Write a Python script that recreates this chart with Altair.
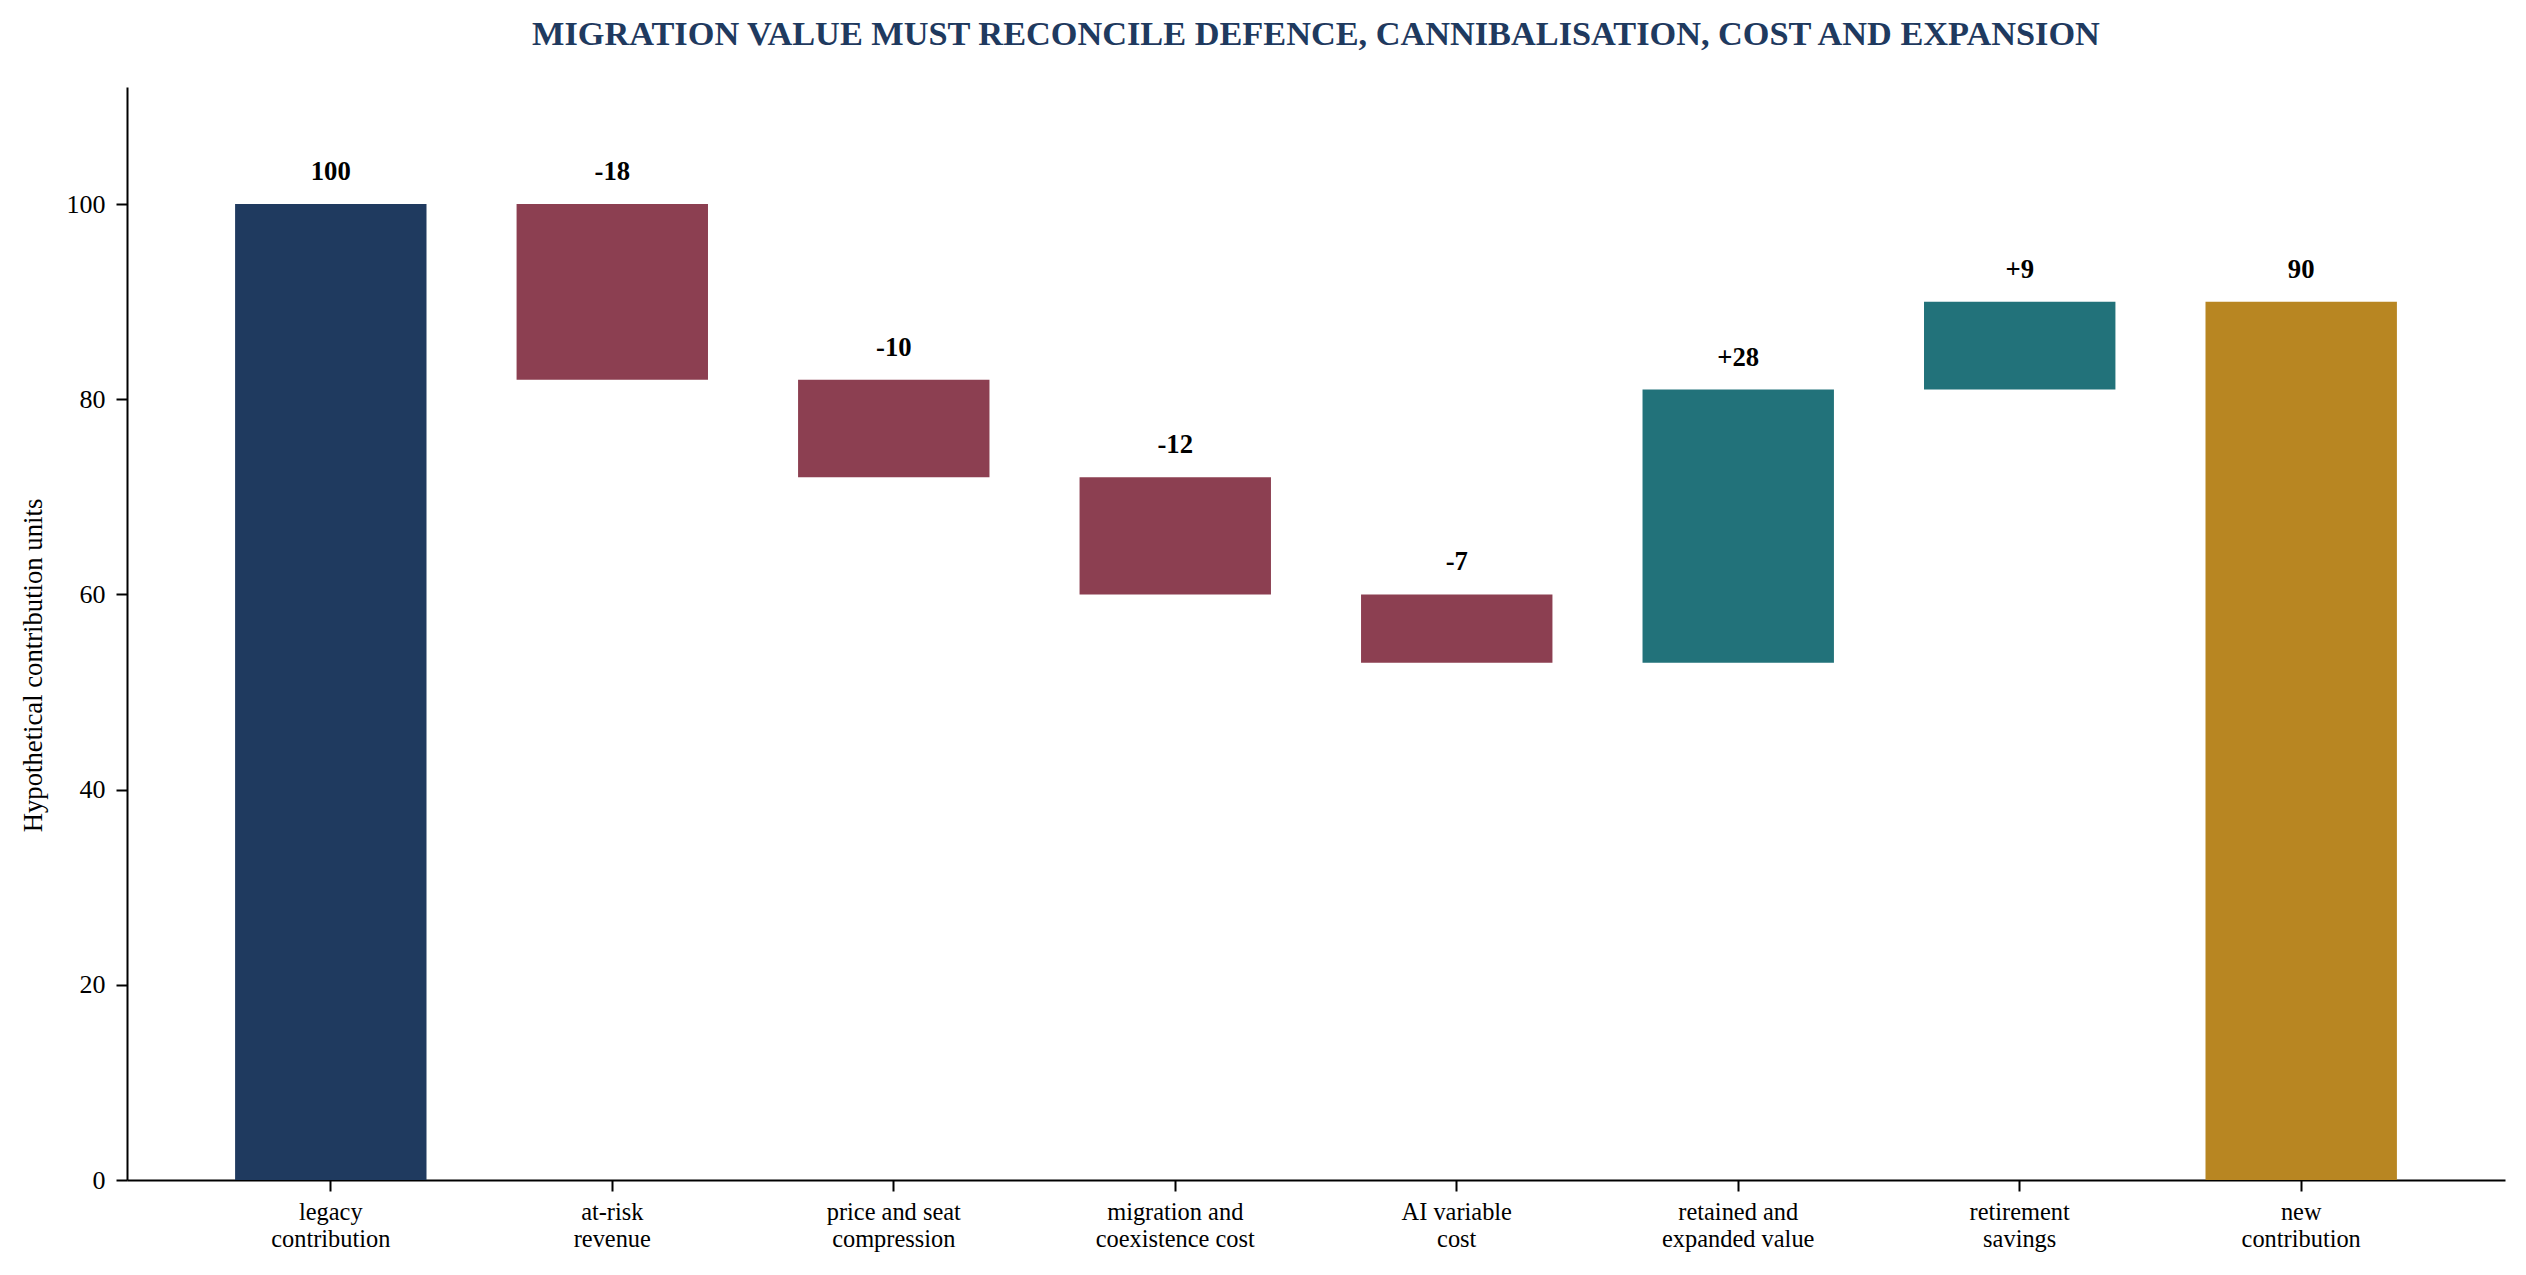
import altair as alt
import pandas as pd

categories = [
    "legacy\ncontribution",
    "at-risk\nrevenue",
    "price and seat\ncompression",
    "migration and\ncoexistence cost",
    "AI variable\ncost",
    "retained and\nexpanded value",
    "retirement\nsavings",
    "new\ncontribution",
]
changes = [100, -18, -10, -12, -7, 28, 9, 90]
value_labels = ["100", "-18", "-10", "-12", "-7", "+28", "+9", "90"]
kinds = ["start", "down", "down", "down", "down", "up", "up", "end"]
kind_domain = ["start", "down", "up", "end"]
kind_colors = ["#1F3A5F", "#8C3F51", "#22727A", "#B88622"]

rows = []
running = 0
for c, d, lab, k in zip(categories, changes, value_labels, kinds):
    if k == "start":
        lo, hi = 0, d
        running = d
    elif k == "end":
        lo, hi = 0, d
    else:
        lo, hi = running, running + d
        running = hi
    rows.append(dict(category=c, y0=lo, y1=hi, top=max(lo, hi), label=lab, kind=k))
df = pd.DataFrame(rows)

FONT = "Liberation Serif"
YTITLE = "Hypothetical contribution units"

x_enc = alt.X(
    "category:N",
    sort=categories,
    scale=alt.Scale(paddingInner=0.32, paddingOuter=0.384),
    axis=alt.Axis(
        title=None,
        labelAngle=0,
        labelExpr="split(datum.label, '\\n')",
        labelFont=FONT,
        labelFontSize=24.4,
        labelLineHeight=27,
        labelPadding=9,
        labelColor="black",
        tickSize=11,
        tickWidth=2,
        tickColor="black",
        domainWidth=2,
        domainColor="black",
    ),
)

y_axis = alt.Axis(
    title=YTITLE,
    values=[0, 20, 40, 60, 80, 100],
    grid=False,
    labelFont=FONT,
    labelFontSize=26,
    labelPadding=11,
    labelColor="black",
    tickSize=11,
    tickWidth=2,
    tickColor="black",
    domainWidth=2,
    domainColor="black",
    titleFont=FONT,
    titleFontSize=26.7,
    titleFontWeight="normal",
    titleColor="black",
    titleAngle=270,
    titleAlign="center",
    titleBaseline="alphabetic",
    titleX=-86,
    titleY=578,
)
y_scale = alt.Scale(domain=[0, 112], nice=False, zero=True)

bars = alt.Chart(df).mark_bar().encode(
    x=x_enc,
    y=alt.Y("y0:Q", scale=y_scale, axis=y_axis),
    y2="y1:Q",
    color=alt.Color("kind:N", scale=alt.Scale(domain=kind_domain, range=kind_colors), legend=None),
)

texts = alt.Chart(df).mark_text(
    font=FONT, fontSize=26.7, fontWeight="bold", dy=-24, baseline="alphabetic", color="black"
).encode(
    x=x_enc,
    y=alt.Y("top:Q", scale=y_scale, axis=y_axis),
    text="label:N",
)

chart = (
    alt.layer(bars, texts)
    .properties(
        width=2378,
        height=1093,
        autosize=alt.AutoSizeParams(type="none"),
        padding={"left": 119, "top": 79, "right": 10, "bottom": 80},
        view=alt.ViewBackground(strokeWidth=0, strokeOpacity=0),
        title=alt.TitleParams(
            text="MIGRATION VALUE MUST RECONCILE DEFENCE, CANNIBALISATION, COST AND EXPANSION",
            font=FONT,
            fontSize=34.3,
            fontWeight="bold",
            color="#1F3A5F",
            anchor="middle",
            frame="group",
            offset=8,
            baseline="alphabetic",
        ),
    )
    .configure_view(strokeWidth=0, stroke="transparent")
    .configure(background="white")
)

chart.save("out.html", embed_options={"renderer": "svg", "actions": False})
